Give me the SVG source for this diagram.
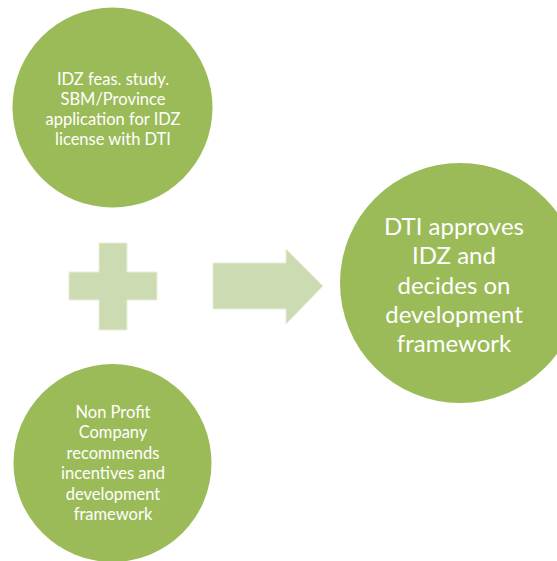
<svg xmlns="http://www.w3.org/2000/svg" width="557" height="561" viewBox="0 0 557 561">
  <style>
    .disc { fill: #9BBB59; }
    .shape { fill: #CDDBB3; stroke: #E6EDD8; stroke-width: 1; }
    .label { font-family: Lato, "Open Sans", sans-serif; fill: #FFFFFF; text-anchor: middle; }
    .small { font-size: 16.5px; }
    .large { font-size: 24px; }
  </style>
  <rect width="557" height="561" fill="#FFFFFF"/>

  <g id="node-feasibility">
    <circle class="disc" cx="112.5" cy="107.5" r="100"/>
    <text class="label small" x="113" y="85">IDZ feas. study.</text>
    <text class="label small" x="113" y="105">SBM/Province</text>
    <text class="label small" x="113" y="125">application for IDZ</text>
    <text class="label small" x="113" y="145">license with DTI</text>
  </g>

  <g id="node-npc">
    <circle class="disc" cx="112.5" cy="463" r="99"/>
    <text class="label small" x="113" y="418">Non Profit</text>
    <text class="label small" x="113" y="438.4">Company</text>
    <text class="label small" x="113" y="458.8">recommends</text>
    <text class="label small" x="113" y="479.2">incentives and</text>
    <text class="label small" x="113" y="499.6">development</text>
    <text class="label small" x="113" y="520">framework</text>
  </g>

  <g id="node-dti">
    <circle class="disc" cx="460" cy="283" r="120"/>
    <text class="label large" x="454" y="235">DTI approves</text>
    <text class="label large" x="454" y="264.3">IDZ and</text>
    <text class="label large" x="454" y="293.6">decides on</text>
    <text class="label large" x="454" y="322.9">development</text>
    <text class="label large" x="454" y="352.2">framework</text>
  </g>

  <g id="connectors">
    <!-- plus sign joining the two inputs -->
    <path class="shape" d="M99,243 H127 V272 H157 V300 H127 V330 H99 V300 H69 V272 H99 Z"/>
    <!-- block arrow toward the outcome -->
    <path class="shape" d="M213,263 H286 V249 L323,286 L286,324 V309 H213 Z"/>
  </g>
</svg>
